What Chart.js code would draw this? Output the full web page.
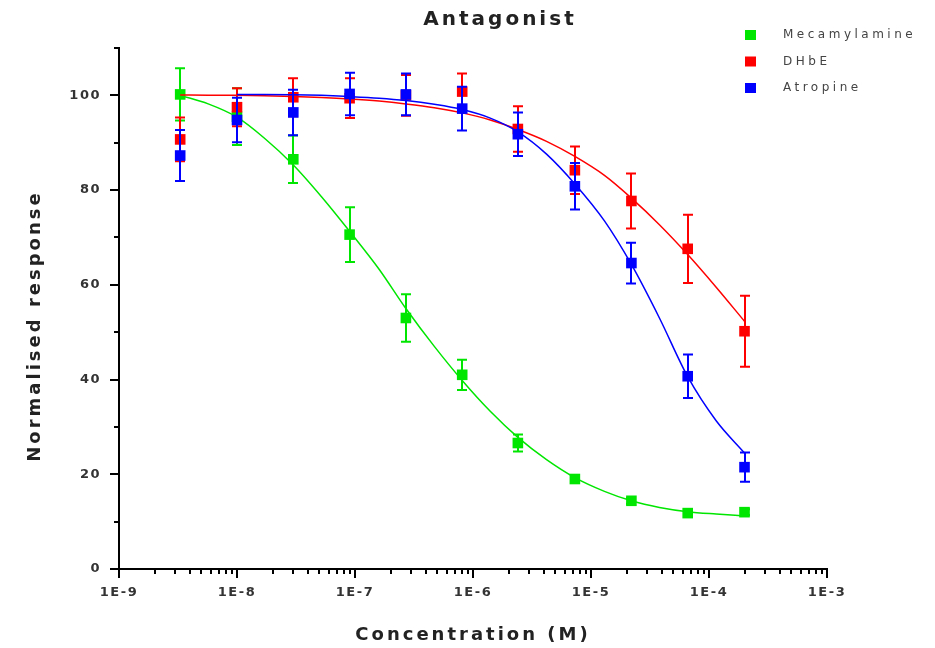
<!DOCTYPE html>
<html>
<head>
<meta charset="utf-8">
<title>Antagonist</title>
<script src="https://cdn.jsdelivr.net/npm/chart.js@4.4.0/dist/chart.umd.min.js"></script>
<style>
    body { margin: 0; background: #fff; }
    #chart { display: block; }
</style>
</head>
<body>
<canvas id="chart" width="935" height="648"></canvas>
<script>
// Concentrations (M) at which responses were measured
const concentrations = [3.3e-9, 1e-8, 3e-8, 9e-8, 2.7e-7, 8.1e-7, 2.4e-6, 7.3e-6, 2.2e-5, 6.6e-5, 2e-4];

// Mean normalised response and error (+/-) per concentration
const mecamylamine    = [100.2, 95.5, 86.5, 70.6, 53.0, 41.0, 26.6, 19.0, 14.4, 11.8, 12.0];
const mecamylamineErr = [5.5, 6.0, 5.0, 5.8, 5.0, 3.2, 1.8, 0.8, 0.6, 0.5, 0.6];
const dhbe            = [90.7, 97.5, 99.6, 99.4, 100.0, 100.8, 92.9, 84.2, 77.7, 67.6, 50.2];
const dhbeErr         = [4.6, 4.0, 4.0, 4.2, 4.3, 3.8, 4.8, 5.0, 5.8, 7.2, 7.5];
const atropine        = [87.3, 94.8, 96.4, 100.3, 100.2, 97.2, 91.8, 80.8, 64.6, 40.7, 21.5];
const atropineErr     = [5.4, 4.7, 4.8, 4.5, 4.4, 4.6, 4.6, 4.9, 4.3, 4.6, 3.1];

// Fitted dose-response curves, sampled along the concentration axis
const fitConcentrations = [3.3e-9, 5.7e-9, 1e-8, 1.7e-8, 3e-8, 5.2e-8, 9e-8, 1.6e-7, 2.7e-7, 4.7e-7, 8.1e-7,
                           1.4e-6, 2.4e-6, 4.2e-6, 7.3e-6, 1.3e-5, 2.2e-5, 3.8e-5, 6.6e-5, 1.15e-4, 2e-4];
const mecamylamineFit = [100, 98.2, 95.4, 91, 85.3, 78.6, 71.3, 63.3, 55, 47, 39.8,
                         33.3, 27.8, 23.1, 19.3, 16.4, 14.4, 13, 12.1, 11.6, 11.2];
const dhbeFit         = [100.1, 100.05, 100, 99.9, 99.75, 99.55, 99.25, 98.8, 98.2, 97.4, 96.3,
                         94.8, 92.8, 90.3, 87.1, 83.1, 78.3, 72.7, 66.4, 59.5, 52.3];
const atropineFit     = [null, null, 100.2, 100.2, 100.15, 100, 99.75, 99.4, 98.9, 98.1, 97,
                         95.2, 92.3, 87.6, 81.3, 73.5, 64.3, 53, 40.6, 31.3, 24.5];

const seriesNames = ['Mecamylamine', 'DHbE', 'Atropine'];
const seriesColors = ['#00e600', '#ff0000', '#0000ff'];

const xTickValues = [1e-9, 1e-8, 1e-7, 1e-6, 1e-5, 1e-4, 1e-3];
const xTickLabels = ['1E-9', '1E-8', '1E-7', '1E-6', '1E-5', '1E-4', '1E-3'];
const yTickValues = [0, 20, 40, 60, 80, 100];

const FONT = '"DejaVu Sans", Verdana, sans-serif';

function points(values) {
    return concentrations.map((c, i) => ({ x: c, y: values[i] }));
}

function curve(values) {
    return fitConcentrations.map((c, i) => ({ x: c, y: values[i] }));
}

// Vertical error bars with caps, drawn just under each marker dataset
const errorBars = {
    id: 'errorBars',
    beforeDatasetDraw(chart, args) {
        const ds = chart.data.datasets[args.index];
        if (!ds.errors) return;
        const { ctx, scales: { x, y } } = chart;
        ctx.save();
        ctx.strokeStyle = ds.backgroundColor;
        ctx.lineWidth = 2;
        ds.data.forEach((pt, i) => {
            const px = Math.round(x.getPixelForValue(pt.x));
            const top = y.getPixelForValue(pt.y + ds.errors[i]);
            const bot = y.getPixelForValue(pt.y - ds.errors[i]);
            ctx.beginPath();
            ctx.moveTo(px, top); ctx.lineTo(px, bot);
            ctx.moveTo(px - 5, top); ctx.lineTo(px + 5, top);
            ctx.moveTo(px - 5, bot); ctx.lineTo(px + 5, bot);
            ctx.stroke();
        });
        ctx.restore();
    }
};

// Outward tick marks, tick labels, titles and legend
const decorations = {
    id: 'decorations',
    afterDraw(chart) {
        const { ctx, chartArea: area, scales: { x, y } } = chart;
        ctx.save();
        ctx.strokeStyle = '#000';
        ctx.lineWidth = 2;

        // y ticks: major every 20, minor every 10
        ctx.beginPath();
        for (let v = 0; v <= 110; v += 10) {
            const py = Math.round(y.getPixelForValue(v));
            const len = v % 20 === 0 ? 9 : 5;
            ctx.moveTo(area.left - len, py);
            ctx.lineTo(area.left, py);
        }
        // x ticks: major at decades, minor at 2..9
        xTickValues.forEach((d, k) => {
            const px = Math.round(x.getPixelForValue(d));
            ctx.moveTo(px, area.bottom);
            ctx.lineTo(px, area.bottom + 9);
            if (k === xTickValues.length - 1) return;
            for (let m = 2; m <= 9; m++) {
                const mx = Math.round(x.getPixelForValue(m * d));
                ctx.moveTo(mx, area.bottom);
                ctx.lineTo(mx, area.bottom + 5);
            }
        });
        ctx.stroke();

        // tick labels
        ctx.fillStyle = '#333';
        ctx.font = 'bold 13px ' + FONT;
        ctx.letterSpacing = '1.5px';
        ctx.textBaseline = 'middle';
        ctx.textAlign = 'right';
        yTickValues.forEach(v => {
            ctx.fillText(String(v), area.left - 18, y.getPixelForValue(v));
        });
        ctx.textAlign = 'center';
        xTickValues.forEach((d, k) => {
            ctx.fillText(xTickLabels[k], x.getPixelForValue(d), area.bottom + 24);
        });

        // axis titles
        ctx.fillStyle = '#222';
        ctx.font = 'bold 18px ' + FONT;
        ctx.letterSpacing = '3px';
        ctx.fillText('Concentration (M)', (area.left + area.right) / 2, 635);
        ctx.save();
        ctx.translate(35, 326);
        ctx.rotate(-Math.PI / 2);
        ctx.fillText('Normalised response', 0, 0);
        ctx.restore();

        // chart title
        ctx.font = 'bold 20px ' + FONT;
        ctx.letterSpacing = '3px';
        ctx.fillText('Antagonist', 500, 20);

        // legend
        ctx.font = '12px ' + FONT;
        ctx.letterSpacing = '3.5px';
        ctx.textAlign = 'left';
        seriesNames.forEach((name, i) => {
            const ly = 35 + i * 26.5;
            ctx.fillStyle = seriesColors[i];
            ctx.fillRect(745, ly - 5, 11, 10);
            ctx.fillStyle = '#444';
            ctx.fillText(name, 783, ly);
        });
        ctx.restore();
    }
};

const fits = [mecamylamineFit, dhbeFit, atropineFit];
const means = [mecamylamine, dhbe, atropine];
const errs = [mecamylamineErr, dhbeErr, atropineErr];

const datasets = [];
seriesNames.forEach((name, i) => {
    datasets.push({
        label: name + ' fit',
        data: curve(fits[i]),
        showLine: true,
        borderColor: seriesColors[i],
        borderWidth: 1.5,
        pointRadius: 0,
        cubicInterpolationMode: 'monotone',
        order: 3 - i
    });
    datasets.push({
        label: name,
        data: points(means[i]),
        errors: errs[i],
        showLine: false,
        pointStyle: 'rect',
        pointRadius: 7.5,
        borderWidth: 0,
        backgroundColor: seriesColors[i],
        order: 3 - i
    });
});

new Chart(document.getElementById('chart'), {
    type: 'scatter',
    data: { datasets },
    options: {
        responsive: false,
        animation: false,
        events: [],
        layout: { padding: { top: 48, right: 108, left: 0, bottom: 0 } },
        plugins: {
            legend: { display: false },
            title: { display: false },
            tooltip: { enabled: false }
        },
        scales: {
            x: {
                type: 'logarithmic',
                min: 1e-9,
                max: 1e-3,
                grid: { display: false },
                ticks: { display: false },
                border: { display: true, color: '#000', width: 2 },
                afterFit: scale => { scale.height = 79; }
            },
            y: {
                min: 0,
                max: 110,
                grid: { display: false },
                ticks: { display: false },
                border: { display: true, color: '#000', width: 2 },
                afterFit: scale => { scale.width = 119; }
            }
        }
    },
    plugins: [errorBars, decorations]
});
</script>
</body>
</html>
